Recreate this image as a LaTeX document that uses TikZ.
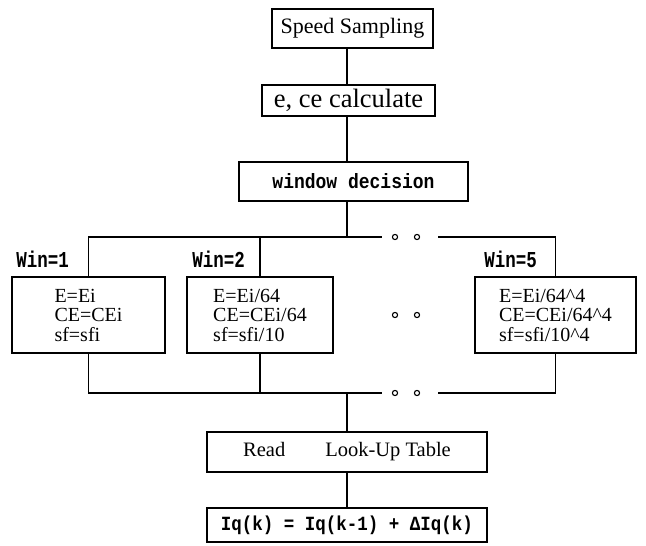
\documentclass[tikz,border=0pt]{standalone}
\usepackage{fontspec}
\setmainfont{Liberation Serif}
\newfontfamily\monof{Liberation Mono}
\begin{document}
\begin{tikzpicture}[x=1pt,y=-1pt,
  box/.style={draw, line width=1.2pt, rectangle, inner sep=0pt, anchor=center},
  wbox/.style={box, minimum height=76pt, align=left, font=\fontsize{20}{19.5}\selectfont},
  lab/.style={inner sep=0pt, anchor=east, font=\monof\bfseries\fontsize{17.5}{18}\selectfont},
  wire/.style={line width=1.2pt},
  dotc/.style={line width=1.1pt}]
\useasboundingbox[fill=white] (0,0) rectangle (646,546);

% main column
\node[box, minimum width=161pt, minimum height=39pt, font=\fontsize{22}{24}\selectfont] (speed) at (352.5,28.5) {Speed Sampling};
\node[box, minimum width=173pt, minimum height=31pt, font=\fontsize{26.5}{28}\selectfont] (ece) at (348.5,100.5) {e, ce calculate};
\node[box, minimum width=229pt, minimum height=39pt, font=\monof\bfseries\fontsize{18}{20}\selectfont] (win) at (353.5,181.5) {\scalebox{1}[1.15]{window decision}};

\coordinate (sp) at (347,0);
\coordinate (jt) at (347,237);
\coordinate (jb) at (347,393);

\draw[wire] (speed.south -| sp) -- (ece.north -| sp);
\draw[wire] (ece.south -| sp) -- (win.north -| sp);
\draw[wire] (win.south -| sp) -- (jt);

% window boxes
\node[wbox, minimum width=153pt] (w1) at (88.5,315) {E=Ei\\CE=CEi\\sf=sfi};
\node[wbox, minimum width=146pt] (w2) at (260,315) {E=Ei/64\\CE=CEi/64\\sf=sfi/10};
\node[wbox, minimum width=161pt] (w5) at (555.5,315) {E=Ei/64\textasciicircum 4\\CE=CEi/64\textasciicircum 4\\sf=sfi/10\textasciicircum 4};

\node[lab] (l1) at (69,259) {\scalebox{1}[1.3]{Win=1}};
\node[lab] (l2) at (245,259) {\scalebox{1}[1.3]{Win=2}};
\node[lab] (l5) at (537,259) {\scalebox{1}[1.3]{Win=5}};

% top bus
\coordinate (tg1) at (382,237);
\coordinate (tg2) at (438,237);
\draw[wire] (w1.north) |- (tg1);
\draw[wire] (tg2) -| (w5.north);
\draw[wire] (w2.north) -- (w2.north |- jt);

% bottom bus
\coordinate (bg1) at (382,393);
\coordinate (bg2) at (438,393);
\draw[wire] (w1.south) |- (bg1);
\draw[wire] (bg2) -| (w5.south);
\draw[wire] (w2.south) -- (w2.south |- jb);

% gap dots
\foreach \x in {395,417} \foreach \y in {237,315,393} \draw[dotc] (\x,\y) circle (2.6pt);

% lower column
\node[box, minimum width=280pt, minimum height=40pt, font=\fontsize{20.5}{22}\selectfont] (read) at (347,452) {Read\hspace{40pt}Look-Up Table\hspace{-30pt}};
\node[box, minimum width=280pt, minimum height=34pt, font=\monof\bfseries\fontsize{17.5}{19}\selectfont] (iq) at (347,525) {\scalebox{1}[1.15]{Iq(k) = Iq(k-1) + ΔIq(k)}};

\draw[wire] (jb) -- (read.north);
\draw[wire] (read.south) -- (iq.north);
\end{tikzpicture}
\end{document}
